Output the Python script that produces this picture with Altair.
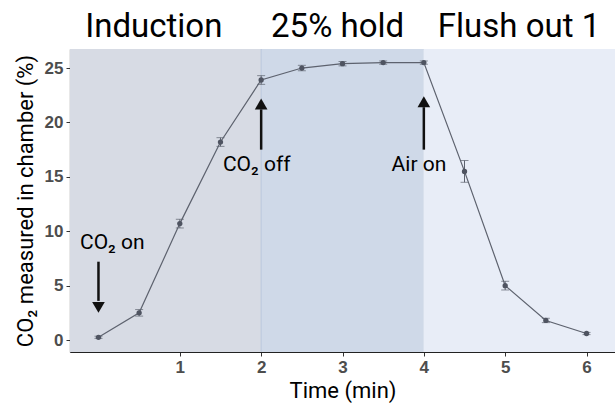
import altair as alt
import pandas as pd

time = [0, 0.5, 1, 1.5, 2, 2.5, 3, 3.5, 4, 4.5, 5, 5.5, 6]
co2 = [0.25, 2.5, 10.7, 18.2, 23.9, 25.0, 25.4, 25.5, 25.5, 15.5, 5.0, 1.8, 0.6]
se = [0.1, 0.3, 0.4, 0.4, 0.4, 0.25, 0.2, 0.15, 0.15, 1.0, 0.4, 0.2, 0.1]

phase_names = ["Induction", "25% hold", "Flush out 1"]
phase_start = [-0.35, 2, 4]
phase_end = [2, 4, 6.35]
phase_label_x = [0.68, 2.94, 5.17]
phase_colors = ["#d7dbe4", "#cfd9e8", "#e8edf7"]

ann_text = ["CO₂ on", "CO₂ off", "Air on"]
ann_x = [0.17, 1.945, 3.94]
ann_y = [8.9, 16.1, 16.1]
arrow_x = [0, 2, 4]
arrow_from = [7.2, 17.5, 17.5]
arrow_to = [3.6, 21.2, 21.4]
arrow_dir = ["triangle-down", "triangle-up", "triangle-up"]
arrow_tip = [3.0, 21.7, 21.9]

df = pd.DataFrame({"t": time, "co2": co2, "lo": [c - s for c, s in zip(co2, se)], "hi": [c + s for c, s in zip(co2, se)]})
ph = pd.DataFrame({"name": phase_names, "x": phase_start, "x2": phase_end, "lx": phase_label_x, "color": phase_colors, "ty": [27.85] * 3})
ann = pd.DataFrame({"text": ann_text, "x": ann_x, "y": ann_y, "ax": arrow_x, "a1": arrow_from, "a2": arrow_to, "shape": arrow_dir, "tip": arrow_tip})

xs = alt.Scale(domain=[-0.35, 6.35], nice=False, zero=False)
ys = alt.Scale(domain=[-1.1, 26.75], nice=False, zero=False)

axis_common = dict(grid=False, domainColor="#222", domainWidth=1.2, format="d",
                   tickColor="#333", labelFont="Liberation Sans", labelFontSize=17, labelFontWeight="bold",
                   labelColor="#4d4d4d", titleFont="Roboto", titleFontSize=22, titleFontWeight="normal",
                   titleColor="#000", tickSize=4, labelPadding=3)

X = alt.X("t:Q", scale=xs, title="Time (min)",
          axis=alt.Axis(values=[1, 2, 3, 4, 5, 6], titlePadding=5, **axis_common))
Y = alt.Y("co2:Q", scale=ys, title="CO₂ measured in chamber (%)",
          axis=alt.Axis(values=[0, 5, 10, 15, 20, 25], titlePadding=7, **axis_common))

rects = alt.Chart(ph).mark_rect().encode(
    x=alt.X("x:Q", scale=xs), x2="x2:Q",
    y=alt.value(0), y2=alt.value(303),
    color=alt.Color("color:N", scale=None))

vline = alt.Chart(pd.DataFrame({"v": [2]})).mark_rule(color="#b8c6dc", strokeWidth=1).encode(x=alt.X("v:Q", scale=xs))

titles = alt.Chart(ph).mark_text(font="Roboto", fontSize=33, color="#000", baseline="alphabetic").encode(
    x=alt.X("lx:Q", scale=xs), y=alt.Y("ty:Q", scale=ys), text="name:N")

line = alt.Chart(df).mark_line(color="#5d626e", strokeWidth=1.2).encode(x=X, y=Y)
err = alt.Chart(df).mark_errorbar(ticks=alt.MarkConfig(size=8), color="#5d626e").encode(
    x=alt.X("t:Q", scale=xs), y=alt.Y("lo:Q", scale=ys, title=""), y2="hi:Q")
pts = alt.Chart(df).mark_circle(size=28, color="#4f5461", opacity=1).encode(x=X, y=Y)

shaft = alt.Chart(ann).mark_rule(color="#111", strokeWidth=2.5).encode(
    x=alt.X("ax:Q", scale=xs), y=alt.Y("a1:Q", scale=ys), y2="a2:Q")
heads = alt.Chart(ann).mark_point(filled=True, size=160, color="#111", opacity=1).encode(
    x=alt.X("ax:Q", scale=xs), y=alt.Y("tip:Q", scale=ys), shape=alt.Shape("shape:N", scale=None))
labels = alt.Chart(ann).mark_text(font="Roboto", fontSize=21, color="#000").encode(
    x=alt.X("x:Q", scale=xs), y=alt.Y("y:Q", scale=ys), text="text:N")

chart = alt.layer(rects, vline, line, err, pts, shaft, heads, labels, titles).properties(
    width=545, height=303,
    padding={"left": 70, "top": 49, "right": 0, "bottom": 56},
    autosize=alt.AutoSizeParams(type="none")
).configure_view(stroke=None, clip=False).configure(background="white")

chart.save("out.html", embed_options={"renderer": "svg", "actions": False})
